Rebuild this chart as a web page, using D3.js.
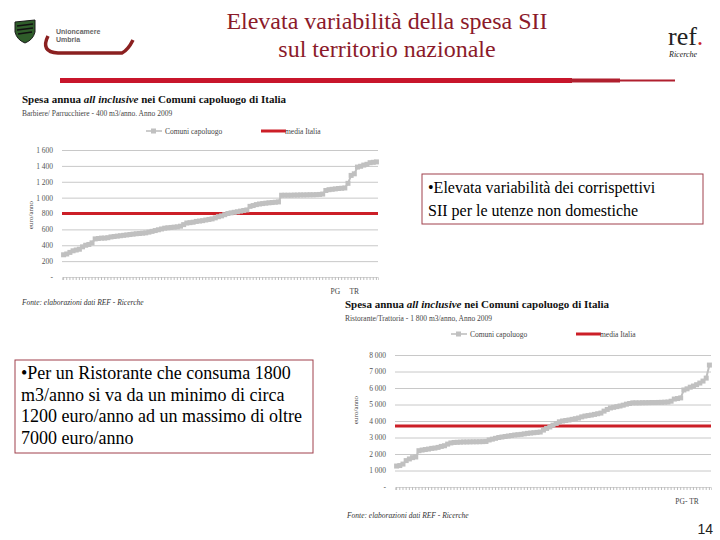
<!DOCTYPE html>
<html>
<head>
<meta charset="utf-8">
<script src="https://cdn.jsdelivr.net/npm/d3@7"></script>
<style>
body { margin: 0; background: #fff; }
svg { display: block; }
</style>
</head>
<body>
<svg width="720" height="540" font-family="'Liberation Serif', 'Times New Roman', serif"></svg>
<script>
// grafico 1: Barbiere/Parrucchiere - 400 m3/anno
const spesaBarbiere = [
  280, 290, 310, 330, 340, 350, 380, 400, 410, 430,
  480, 485, 490, 490, 495, 505, 510, 515, 520, 525,
  530, 535, 540, 545, 548, 552, 556, 565, 575, 585,
  595, 605, 615, 620, 624, 628, 632, 640, 660, 680,
  685, 690, 700, 705, 710, 718, 725, 732, 745, 760,
  770, 785, 800, 808, 815, 822, 830, 838, 845, 890,
  900, 912, 920, 925, 930, 935, 938, 942, 946, 1030,
  1030, 1030, 1030, 1032, 1032, 1034, 1034, 1035, 1036, 1036,
  1038, 1040, 1045, 1090, 1100, 1105, 1110, 1115, 1118, 1122,
  1180, 1280, 1300, 1385, 1395, 1410, 1420, 1440, 1445, 1450
];
const mediaBarbiere = 800;
const tickBarbiere = [0, 200, 400, 600, 800, 1000, 1200, 1400, 1600];
const posEtichetteBarbiere = [86, 92];
const etichetteBarbiere = ["PG", "TR"];

// grafico 2: Ristorante/Trattoria - 1 800 m3/anno
const spesaRistorante = [
  1270, 1300, 1390, 1600, 1700, 1780, 1820, 2200, 2240, 2270,
  2300, 2340, 2360, 2400, 2460, 2500, 2600, 2670, 2700, 2710,
  2720, 2730, 2730, 2735, 2740, 2740, 2745, 2750, 2760, 2850,
  2900, 2950, 3000, 3030, 3060, 3090, 3120, 3150, 3170, 3190,
  3220, 3250, 3270, 3290, 3310, 3330, 3450, 3550, 3640, 3750,
  3850, 3950, 4000, 4030, 4060, 4100, 4140, 4180, 4250, 4300,
  4330, 4360, 4400, 4440, 4480, 4600, 4700, 4790, 4830, 4870,
  4910, 4960, 5020, 5060, 5100, 5100, 5100, 5110, 5110, 5115,
  5120, 5120, 5125, 5130, 5140, 5150, 5200, 5330, 5360, 5400,
  5880, 5950, 6050, 6120, 6200, 6300, 6420, 6600, 7390
];
const mediaRistorante = 3700;
const tickRistorante = [0, 1000, 2000, 3000, 4000, 5000, 6000, 7000, 8000];
const posEtichetteRistorante = [91];
const etichetteRistorante = ["PG- TR"];

const grigio = "#c0c0c0";
const rosso = "#cc1f27";
const bordeaux = "#8b1a2a";
const serif = "'Liberation Serif', 'Times New Roman', serif";

const svg = d3.select("svg");

// numeri con lo spazio come separatore delle migliaia, zero come "-"
const loc = d3.formatLocale({ decimal: ",", thousands: " ", grouping: [3], currency: ["", ""] });
const fmt = d => d === 0 ? "-" : loc.format(",")(d);

// ---------- intestazione ----------
svg.append("text")
  .attr("x", 387).attr("y", 29)
  .attr("text-anchor", "middle")
  .attr("font-size", 24).attr("fill", bordeaux)
  .text("Elevata variabilità della spesa SII");
svg.append("text")
  .attr("x", 387).attr("y", 57)
  .attr("text-anchor", "middle")
  .attr("font-size", 24).attr("fill", bordeaux)
  .text("sul territorio nazionale");

// barra rossa sotto il titolo
svg.append("rect").attr("x", 60).attr("y", 78).attr("width", 512).attr("height", 5).attr("fill", "#c8152b");
svg.append("rect").attr("x", 570).attr("y", 78.5).attr("width", 50).attr("height", 4).attr("fill", "#b01f2e");
svg.append("rect").attr("x", 618).attr("y", 79.5).attr("width", 57).attr("height", 2).attr("fill", "#b01f2e");

// logo Unioncamere Umbria
svg.append("path")
  .attr("d", "M15,22 L35,20 L35,32 Q33,40 25,43 Q17,40 15,32 Z")
  .attr("fill", "#2f5d2a").attr("stroke", "#1a1a1a").attr("stroke-width", 1);
svg.append("path")
  .attr("d", "M17,26 L33,24 M17,30 L33,28 M18,34 L32,32")
  .attr("stroke", "#111").attr("stroke-width", 1.5);
svg.append("text").attr("x", 56).attr("y", 34).attr("font-family", "Liberation Sans")
  .attr("font-size", 7).attr("font-weight", "bold").attr("fill", "#666").text("Unioncamere");
svg.append("text").attr("x", 56).attr("y", 42).attr("font-family", "Liberation Sans")
  .attr("font-size", 7).attr("font-weight", "bold").attr("fill", "#666").text("Umbria");
svg.append("path")
  .attr("d", "M48,36 Q40,52 58,53 L122,53 Q128,50 133,40")
  .attr("fill", "none").attr("stroke", "#8b2020").attr("stroke-width", 3.5);

// logo ref. Ricerche
const ref = svg.append("text").attr("x", 668).attr("y", 45).attr("font-size", 26).attr("fill", "#222");
ref.append("tspan").text("ref");
ref.append("tspan").attr("fill", rosso).text(".");
svg.append("text").attr("x", 669).attr("y", 57).attr("font-size", 8).attr("font-style", "italic")
  .attr("fill", "#222").text("Ricerche");

// ---------- grafici ----------
function grafico(o) {
  const g = svg.append("g");

  // titolo
  const t = g.append("text").attr("x", o.tx).attr("y", o.ty)
    .attr("font-size", 11).attr("font-weight", "bold").attr("fill", "#111");
  t.append("tspan").text("Spesa annua ");
  t.append("tspan").attr("font-style", "italic").text("all inclusive");
  t.append("tspan").text("  nei Comuni capoluogo di Italia");
  g.append("text").attr("x", o.tx).attr("y", o.ty + 13)
    .attr("font-size", 7.5).attr("fill", "#444").text(o.sottotitolo);

  const x = d3.scaleBand()
    .domain(d3.range(o.valori.length))
    .range([o.x0, o.x1]);
  const y = d3.scaleLinear()
    .domain([0, o.tick[o.tick.length - 1]])
    .range([o.yb, o.yt]);

  // griglia + etichette asse y
  const ay = g.append("g")
    .attr("transform", "translate(" + o.x0 + ",0)")
    .call(d3.axisLeft(y).tickValues(o.tick).tickFormat(fmt)
      .tickSize(-(o.x1 - o.x0)).tickPadding(9));
  ay.select(".domain").remove();
  ay.selectAll(".tick line")
    .attr("stroke", d => d === 0 ? "none" : "#c8c8c8");
  ay.selectAll(".tick text")
    .attr("font-family", serif).attr("font-size", 7.5).attr("fill", "#555");

  // asse categorie
  const ax = g.append("g")
    .attr("transform", "translate(0," + o.yb + ")")
    .call(d3.axisBottom(x).tickSize(3).tickFormat(i => {
      const k = o.posEtichette.indexOf(i);
      return k >= 0 ? o.etichette[k] : "";
    }).tickPadding(9));
  ax.select(".domain").attr("stroke", "#d4d4d4");
  ax.selectAll(".tick line").attr("stroke", "#bdbdbd");
  ax.selectAll(".tick text")
    .attr("font-family", serif).attr("font-size", 7.5).attr("fill", "#444");

  // titolo asse y
  g.append("text")
    .attr("transform", "translate(" + o.ylx + "," + o.yly + ") rotate(-90)")
    .attr("text-anchor", "middle").attr("font-size", 7).attr("fill", "#444")
    .text("euro/anno");

  // media Italia
  g.append("line")
    .attr("x1", o.x0).attr("x2", o.x1)
    .attr("y1", y(o.media)).attr("y2", y(o.media))
    .attr("stroke", rosso).attr("stroke-width", 3);

  // comuni capoluogo
  const cx = (d, i) => x(i) + x.bandwidth() / 2;
  g.append("path")
    .datum(o.valori)
    .attr("fill", "none").attr("stroke", grigio).attr("stroke-width", 2)
    .attr("d", d3.line().x(cx).y(d => y(d)));
  g.selectAll("rect.m")
    .data(o.valori)
    .join("rect")
    .attr("class", "m")
    .attr("x", (d, i) => cx(d, i) - 2.5)
    .attr("y", d => y(d) - 2.5)
    .attr("width", 5).attr("height", 5)
    .attr("fill", grigio);

  // legenda
  const lg = g.append("g").attr("transform", "translate(0," + o.ly + ")");
  lg.append("line").attr("x1", o.lx1).attr("x2", o.lx1 + 16).attr("stroke", "#aaa").attr("stroke-width", 1.2);
  lg.append("rect").attr("x", o.lx1 + 5).attr("y", -2.5).attr("width", 5).attr("height", 5).attr("fill", grigio);
  lg.append("text").attr("x", o.lx1 + 19).attr("y", 2.5).attr("font-size", 7.5).attr("fill", "#444")
    .text("Comuni capoluogo");
  lg.append("line").attr("x1", o.lx2).attr("x2", o.lx2 + 25).attr("stroke", rosso).attr("stroke-width", 3);
  lg.append("text").attr("x", o.lx2 + 24).attr("y", 2.5).attr("font-size", 7.5).attr("fill", "#444")
    .text("media Italia");

  // fonte
  g.append("text").attr("x", o.fx).attr("y", o.fy)
    .attr("font-size", 7.5).attr("font-style", "italic").attr("fill", "#333")
    .text("Fonte: elaborazioni dati REF - Ricerche");
}

grafico({
  valori: spesaBarbiere, media: mediaBarbiere, tick: tickBarbiere,
  posEtichette: posEtichetteBarbiere, etichette: etichetteBarbiere,
  sottotitolo: "Barbiere/ Parrucchiere - 400 m3/anno. Anno 2009",
  tx: 22, ty: 103, x0: 62, x1: 378, yt: 150, yb: 277,
  ylx: 33, yly: 215, ly: 131, lx1: 146, lx2: 261, fx: 22, fy: 305
});

grafico({
  valori: spesaRistorante, media: mediaRistorante, tick: tickRistorante,
  posEtichette: posEtichetteRistorante, etichette: etichetteRistorante,
  sottotitolo: "Ristorante/Trattoria - 1 800 m3/anno, Anno 2009",
  tx: 345, ty: 308, x0: 395, x1: 711, yt: 355, yb: 487,
  ylx: 358, yly: 410, ly: 334, lx1: 451, lx2: 576, fx: 347, fy: 518
});

// ---------- riquadri di testo ----------
function riquadro(x, y, w, h, righe, fs, passo) {
  svg.append("rect").attr("x", x).attr("y", y).attr("width", w).attr("height", h)
    .attr("fill", "#fff").attr("stroke", "#a0404c").attr("stroke-width", 1);
  svg.append("g").selectAll("text")
    .data(righe)
    .join("text")
    .attr("x", x + 6).attr("y", (d, i) => y + 19 + i * passo)
    .attr("font-size", fs).attr("fill", "#000")
    .text(d => d);
}
riquadro(422, 174, 281, 50, [
  "•Elevata variabilità dei corrispettivi",
  "SII per le utenze non domestiche"
], 16, 23);
riquadro(15, 360, 298, 93, [
  "•Per un Ristorante che consuma 1800",
  "m3/anno si va da un minimo di circa",
  "1200 euro/anno ad un massimo di oltre",
  "7000 euro/anno"
], 18, 21.7);

// numero di pagina
svg.append("text").attr("x", 713).attr("y", 534).attr("text-anchor", "end")
  .attr("font-family", "Liberation Sans").attr("font-size", 14).attr("fill", "#222").text("14");
</script>
</body>
</html>
